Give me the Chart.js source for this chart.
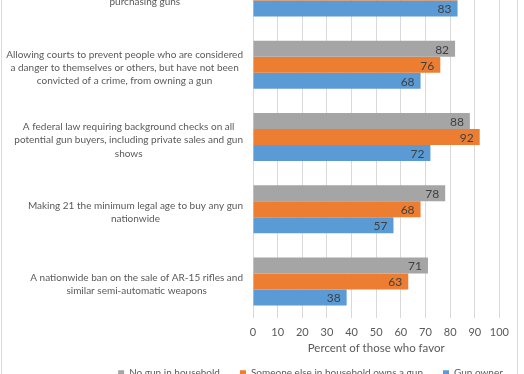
<!DOCTYPE html>
<html>
<head>
<meta charset="utf-8">
<script src="https://cdn.jsdelivr.net/npm/chart.js@4.4.1/dist/chart.umd.min.js"></script>
<style>
  html, body { margin: 0; padding: 0; background: #fff; overflow: hidden; }
  body { width: 524px; height: 374px; position: relative; }
  #wrap { position: absolute; left: 1px; top: -51px; width: 515px; height: 440px; border: 1px solid #d9d9d9; }
</style>
</head>
<body>
<div id="wrap"><canvas id="chart" width="515" height="440"></canvas></div>
<script>
// categorias (rotulos ja quebrados em linhas como no original)
const categorias = [
  ['Preventing people with mental illnesses from', 'purchasing guns'],
  ['Allowing courts to prevent people who are considered', 'a danger to themselves or others, but have not been', 'convicted of a crime, from owning a gun'],
  ['A federal law requiring background checks on all', 'potential gun buyers, including private sales and gun', 'shows'],
  ['Making 21 the minimum legal age to buy any gun', 'nationwide'],
  ['A nationwide ban on the sale of AR-15 rifles and', 'similar semi-automatic weapons']
];

const series = ['No gun in household', 'Someone else in household owns a gun', 'Gun owner'];
const semArma = [88, 82, 88, 78, 71];
const outroTemArma = [83, 76, 92, 68, 63];
const donoArma = [83, 68, 72, 57, 38];
const cores = ['#a5a5a5', '#ed7d31', '#5b9bd5'];
const ticksX = [0, 10, 20, 30, 40, 50, 60, 70, 80, 90, 100];

const fonte = 'Lato, "Liberation Sans", sans-serif';

// rotulos das categorias: bloco alinhado a direita, linhas centralizadas no bloco
const rotulosCategorias = {
  id: 'rotulosCategorias',
  afterDraw(chart) {
    const ctx = chart.ctx;
    const yScale = chart.scales.y;
    const direita = chart.chartArea.left - 10;
    ctx.save();
    ctx.font = '10px ' + fonte;
    ctx.fillStyle = '#595959';
    ctx.textAlign = 'center';
    ctx.textBaseline = 'middle';
    categorias.forEach((linhas, i) => {
      const largura = Math.max(...linhas.map(l => ctx.measureText(l).width));
      const cx = direita - largura / 2;
      const cy = yScale.getPixelForTick(i) + 3;
      linhas.forEach((linha, j) => {
        ctx.fillText(linha, cx, cy + (j - (linhas.length - 1) / 2) * 13.3);
      });
    });
    ctx.restore();
  }
};

// valores dentro da ponta das barras
const rotulosValores = {
  id: 'rotulosValores',
  afterDatasetsDraw(chart) {
    const ctx = chart.ctx;
    ctx.save();
    ctx.font = '12px ' + fonte;
    ctx.fillStyle = '#404040';
    ctx.textAlign = 'right';
    ctx.textBaseline = 'middle';
    chart.data.datasets.forEach((ds, d) => {
      chart.getDatasetMeta(d).data.forEach((bar, i) => {
        ctx.fillText(ds.data[i], bar.x - 6, bar.y + 1);
      });
    });
    ctx.restore();
  }
};

// legenda com altura fixa e posicao igual ao original (nao centrada)
const posicionaLegenda = {
  id: 'posicionaLegenda',
  afterInit(chart) {
    const lg = chart.legend;
    if (!lg) return;
    const fitOriginal = lg.fit.bind(lg);
    lg.fit = () => { fitOriginal(); lg.height = 30; };
  },
  afterLayout(chart) {
    const lg = chart.legend;
    lg.left += 59;
    lg.right += 59;
    lg.top = chart.chartArea.bottom + 55.7 - lg.options.labels.padding - 5;
    lg.bottom = lg.top + lg.height;
  }
};

new Chart(document.getElementById('chart'), {
  type: 'bar',
  data: {
    labels: categorias,
    datasets: series.map((nome, k) => ({
      label: nome,
      data: [semArma, outroTemArma, donoArma][k],
      backgroundColor: cores[k],
      borderWidth: 0,
      barPercentage: 1,
      categoryPercentage: 0.665
    }))
  },
  options: {
    indexAxis: 'y',
    responsive: false,
    animation: false,
    layout: { padding: { top: 6.5, left: 0, right: 16, bottom: 0.9 } },
    scales: {
      x: {
        min: 0,
        max: 100,
        afterBuildTicks(scale) { scale.ticks = ticksX.map(v => ({ value: v })); },
        afterFit(scale) { scale.height = 41.6; },
        grid: { color: '#d9d9d9', drawTicks: false },
        border: { display: false },
        ticks: {
          color: '#595959',
          font: { family: fonte, size: 11 },
          padding: 8,
          maxRotation: 0,
          minRotation: 0,
          autoSkip: false
        },
        title: {
          display: true,
          text: 'Percent of those who favor',
          color: '#595959',
          font: { family: fonte, size: 11.5 },
          padding: { top: 0, bottom: 4.2 }
        }
      },
      y: {
        afterFit(scale) { scale.width = 251; },
        ticks: { display: false },
        grid: { display: false },
        border: { display: false }
      }
    },
    plugins: {
      legend: {
        position: 'bottom',
        labels: {
          color: '#595959',
          font: { family: fonte, size: 10 },
          boxWidth: 6,
          boxHeight: 6,
          padding: 20
        }
      },
      tooltip: { enabled: false }
    }
  },
  plugins: [rotulosCategorias, rotulosValores, posicionaLegenda]
});
</script>
</body>
</html>
